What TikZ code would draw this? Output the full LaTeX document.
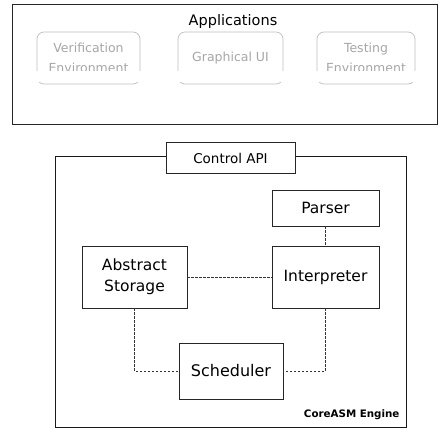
\documentclass[tikz,border=0pt]{standalone}
\usepackage{fontspec}
\setmainfont{DejaVu Sans}
\begin{document}
\begin{tikzpicture}[x=1pt,y=-1pt,
  comp/.style={draw=black!85,line width=0.9pt,fill=white,inner sep=0pt,align=center},
  appbox/.style={draw=black!25,line width=0.7pt,rounded corners=7pt,inner sep=0pt,align=center,text=black!35,font=\fontsize{12.5}{19.5}\selectfont},
  link/.style={draw=black!80,line width=0.7pt,dash pattern=on 2.2pt off 1.8pt}]
\useasboundingbox (0,0) rectangle (439,429);

% applications frame
\node[draw=black!85,line width=1pt,minimum width=425pt,minimum height=120pt,anchor=north west,inner sep=0pt] (apps) at (12,4) {};
\node[font=\fontsize{14.5}{17}\selectfont] (appstitle) at (233,21) {Applications};
\node[appbox,minimum width=103pt,minimum height=52pt] (verif) at (88.5,58) {Verification\\Environment};
\node[appbox,minimum width=105pt,minimum height=52pt] (gui) at (230.5,58) {Graphical UI};
\node[appbox,minimum width=98pt,minimum height=52pt] (test) at (366,58) {Testing\\Environment};
% faded band across the lower part of the application boxes
\fill[white] (30,71) rectangle (423,82);

% engine frame
\node[draw=black!90,line width=1.4pt,minimum width=351pt,minimum height=271pt,anchor=north west,inner sep=0pt] (engine) at (55,156) {};
\node[font=\bfseries\fontsize{10.3}{12}\selectfont,anchor=south east] (enginelabel) at (403,423) {CoreASM Engine};

% components
\node[comp,minimum width=129pt,minimum height=31pt,font=\fontsize{13.5}{16}\selectfont] (api) at (230.5,158) {Control API};
\node[comp,minimum width=107pt,minimum height=36pt,font=\fontsize{15.5}{18}\selectfont] (parser) at (325.5,208) {Parser};
\node[comp,minimum width=107pt,minimum height=62pt,font=\fontsize{15.5}{18}\selectfont] (interp) at (325.5,277) {Interpreter};
\node[comp,minimum width=105pt,minimum height=62pt,font=\fontsize{15.5}{21}\selectfont] (storage) at (134.5,277) {Abstract\\Storage};
\node[comp,minimum width=104pt,minimum height=56pt,font=\fontsize{16}{19}\selectfont] (sched) at (231,371) {Scheduler};

% connections
\draw[link] (storage.east) -- (interp.west);
\draw[link] (parser.south) -- (interp.north);
\draw[link] (storage.south) |- (sched.west);
\draw[link] (interp.south) |- (sched.east);
\end{tikzpicture}
\end{document}
